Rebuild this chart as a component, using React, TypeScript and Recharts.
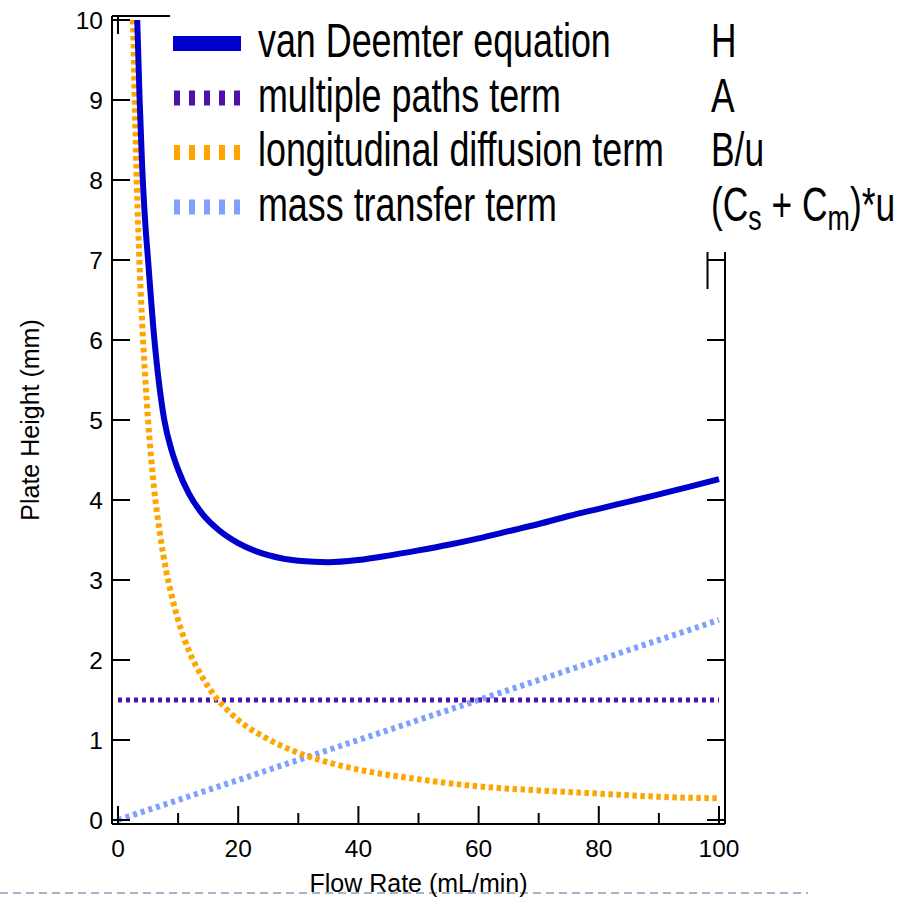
import React from 'react';
import { LineChart, Line, XAxis, YAxis, Legend } from 'recharts';

const FONT = '"Liberation Sans", Arial, Helvetica, sans-serif';

// van Deemter equation H
const flowH = [3.2, 3.6, 4, 4.5, 5, 6, 7.7, 9, 10, 11.8, 14, 16.5, 20, 25, 30, 35, 40, 45, 50, 55, 60, 65, 70, 75, 80, 85, 90, 95, 100];
const plateH = [10, 9.0, 8.2, 7.5, 7.0, 6.05, 5.0, 4.6, 4.38, 4.08, 3.83, 3.64, 3.46, 3.31, 3.24, 3.222, 3.25, 3.305, 3.37, 3.44, 3.52, 3.61, 3.70, 3.80, 3.89, 3.98, 4.07, 4.165, 4.26];

// multiple paths term A
const flowA = [0, 100];
const plateA = [1.5, 1.5];

// longitudinal diffusion term B/u
const flowB = [2.5, 3, 3.5, 4, 5, 6, 7, 8, 9, 10, 12, 14, 16, 18, 20, 25, 30, 35, 40, 50, 60, 70, 80, 90, 100];
const plateB = [10, 8.3, 7.1, 6.25, 5.0, 4.15, 3.57, 3.12, 2.78, 2.5, 2.08, 1.79, 1.56, 1.39, 1.25, 1.01, 0.84, 0.72, 0.63, 0.51, 0.42, 0.37, 0.33, 0.29, 0.27];

// mass transfer term (Cs + Cm)*u
const flowC = [0, 20, 40, 60, 80, 100];
const plateC = [0, 0.5, 1.0, 1.5, 2.0, 2.5];

const xTicks = [0, 10, 20, 30, 40, 50, 60, 70, 80, 90, 100];
const yTicks = [0, 1, 2, 3, 4, 5, 6, 7, 8, 9, 10];

const seriesNames = ['van Deemter equation', 'multiple paths term', 'longitudinal diffusion term', 'mass transfer term'];
const seriesColors = ['#0000CC', '#5010AA', '#FFA500', '#80A0FF'];

const toPoints = (xs: number[], ys: number[]) => xs.map((u, i) => ({ u, v: ys[i] }));

const dataH = toPoints(flowH, plateH);
const dataA = toPoints(flowA, plateA);
const dataB = toPoints(flowB, plateB);
const dataC = toPoints(flowC, plateC);

const TICK_LEN = 18;
const MINOR_LEN = 11;
const TICK_FONT = 24.5;

const BottomTick = (props: any) => {
  const { x, y, payload } = props;
  const major = payload.value % 20 === 0;
  return (
    <g>
      <line x1={x} x2={x} y1={y} y2={y - (major ? TICK_LEN : MINOR_LEN)} stroke="#000" strokeWidth={2} />
      {major && (
        <text x={x} y={y + 16} dy="0.71em" textAnchor="middle" fontSize={TICK_FONT} fontFamily={FONT} fill="#000">
          {payload.value}
        </text>
      )}
    </g>
  );
};

const TopTick = (props: any) => {
  const { x, y, payload } = props;
  const major = payload.value % 20 === 0;
  return <line x1={x} x2={x} y1={y} y2={y + (major ? TICK_LEN : MINOR_LEN)} stroke="#000" strokeWidth={2} />;
};

const LeftTick = (props: any) => {
  const { x, y, payload } = props;
  return (
    <g>
      <line x1={x} x2={x + TICK_LEN} y1={y} y2={y} stroke="#000" strokeWidth={2} />
      <text x={x - 9} y={y} dy="0.355em" textAnchor="end" fontSize={TICK_FONT} fontFamily={FONT} fill="#000">
        {payload.value}
      </text>
    </g>
  );
};

const RightTick = (props: any) => {
  const { x, y } = props;
  return <line x1={x - TICK_LEN} x2={x} y1={y} y2={y} stroke="#000" strokeWidth={2} />;
};

const rowCenters = [43.5, 98, 152.5, 207];
const formulas: React.ReactNode[] = [
  'H',
  'A',
  'B/u',
  <>
    <tspan>(C</tspan>
    <tspan fontSize={36} dy={9}>s</tspan>
    <tspan dy={-9}>{' + C'}</tspan>
    <tspan fontSize={36} dy={9}>m</tspan>
    <tspan dy={-9}>)*u</tspan>
  </>,
];

const LegendBox = () => (
  <svg width={730} height={292} style={{ display: 'block', overflow: 'visible' }}>
    <rect x={0} y={0} width={730} height={252} fill="#fff" />
    <line x1={537.5} x2={537.5} y1={252} y2={289} stroke="#000" strokeWidth={2} />
    {seriesNames.map((name, i) => {
      const cy = rowCenters[i];
      const base = cy + 13.5;
      return (
        <g key={name}>
          {i === 0 ? (
            <line x1={3} x2={71} y1={cy} y2={cy} stroke={seriesColors[i]} strokeWidth={15} />
          ) : (
            <line x1={4} x2={70} y1={cy} y2={cy} stroke={seriesColors[i]} strokeWidth={15} strokeDasharray="6 9" />
          )}
          <text
            transform={`translate(88,${base}) scale(0.755,1)`}
            fontSize={47.5}
            fontFamily={FONT}
            fill="#000"
            style={{ whiteSpace: 'pre' }}
          >
            {name}
          </text>
          <text
            transform={`translate(541,${base}) scale(0.745,1)`}
            fontSize={47.5}
            fontFamily={FONT}
            fill="#000"
            style={{ whiteSpace: 'pre' }}
          >
            {formulas[i]}
          </text>
        </g>
      );
    })}
  </svg>
);

const YLabel = (p: any) => {
  const vb = p.viewBox || {};
  const cx = vb.x + vb.width - 73;
  const cy = vb.y + vb.height / 2;
  return (
    <text
      x={cx}
      y={cy}
      transform={`rotate(-90, ${cx}, ${cy})`}
      textAnchor="middle"
      fontSize={25}
      fontFamily={FONT}
      fill="#000"
    >
      Plate Height (mm)
    </text>
  );
};

const XLabel = (p: any) => {
  const vb = p.viewBox || {};
  const cx = vb.x + vb.width / 2;
  const by = vb.y + 68;
  return (
    <g>
      <line x1={0} x2={808} y1={by + 1} y2={by + 1} stroke="#A3B5C7" strokeWidth={2} strokeDasharray="8 5" />
      <text x={cx} y={by} textAnchor="middle" fontSize={25} fontFamily={FONT} fill="#000">
        Flow Rate (mL/min)
      </text>
    </g>
  );
};

export default function App() {
  return (
    <div style={{ position: 'fixed', left: 0, top: 0, background: '#fff' }}>
      <LineChart width={900} height={899} margin={{ top: 15, right: 174, bottom: 74, left: 111 }}>
        <XAxis
          xAxisId="bottom"
          dataKey="u"
          type="number"
          domain={[-1, 101]}
          allowDataOverflow
          ticks={xTicks}
          interval={0}
          height={1}
          tickSize={0}
          tickMargin={0}
          tickLine={false}
          tick={BottomTick}
          axisLine={{ stroke: '#000', strokeWidth: 2 }}
          label={{ content: XLabel }}
        />
        <XAxis
          xAxisId="top"
          orientation="top"
          dataKey="u"
          type="number"
          domain={[-1, 101]}
          allowDataOverflow
          ticks={xTicks}
          interval={0}
          height={1}
          tickSize={0}
          tickMargin={0}
          tickLine={false}
          tick={TopTick}
          axisLine={{ stroke: '#000', strokeWidth: 2 }}
        />
        <YAxis
          yAxisId="left"
          type="number"
          domain={[-0.05, 10.05]}
          allowDataOverflow
          ticks={yTicks}
          interval={0}
          width={1}
          tickSize={0}
          tickMargin={0}
          tickLine={false}
          tick={LeftTick}
          axisLine={{ stroke: '#000', strokeWidth: 2 }}
          label={{ content: YLabel }}
        />
        <YAxis
          yAxisId="right"
          orientation="right"
          type="number"
          domain={[-0.05, 10.05]}
          allowDataOverflow
          ticks={yTicks}
          interval={0}
          width={1}
          tickSize={0}
          tickMargin={0}
          tickLine={false}
          tick={RightTick}
          axisLine={{ stroke: '#000', strokeWidth: 2 }}
        />
        <Line
          xAxisId="bottom"
          yAxisId="left"
          data={dataA}
          dataKey="v"
          name={seriesNames[1]}
          type="linear"
          stroke={seriesColors[1]}
          strokeWidth={5}
          strokeDasharray="4 4"
          dot={false}
          activeDot={false}
          isAnimationActive={false}
        />
        <Line
          xAxisId="bottom"
          yAxisId="left"
          data={dataC}
          dataKey="v"
          name={seriesNames[3]}
          type="linear"
          stroke={seriesColors[3]}
          strokeWidth={6}
          strokeDasharray="4 4"
          dot={false}
          activeDot={false}
          isAnimationActive={false}
        />
        <Line
          xAxisId="bottom"
          yAxisId="left"
          data={dataB}
          dataKey="v"
          name={seriesNames[2]}
          type="monotone"
          stroke={seriesColors[2]}
          strokeWidth={6}
          strokeDasharray="4.5 3.5"
          dot={false}
          activeDot={false}
          isAnimationActive={false}
        />
        <Line
          xAxisId="bottom"
          yAxisId="left"
          data={dataH}
          dataKey="v"
          name={seriesNames[0]}
          type="monotone"
          stroke={seriesColors[0]}
          strokeWidth={6}
          dot={false}
          activeDot={false}
          isAnimationActive={false}
        />
        <Legend
          layout="vertical"
          align="center"
          verticalAlign="middle"
          content={() => <LegendBox />}
          wrapperStyle={{ position: 'absolute', left: 170, top: 0, width: 730, height: 292 }}
        />
      </LineChart>
    </div>
  );
}
